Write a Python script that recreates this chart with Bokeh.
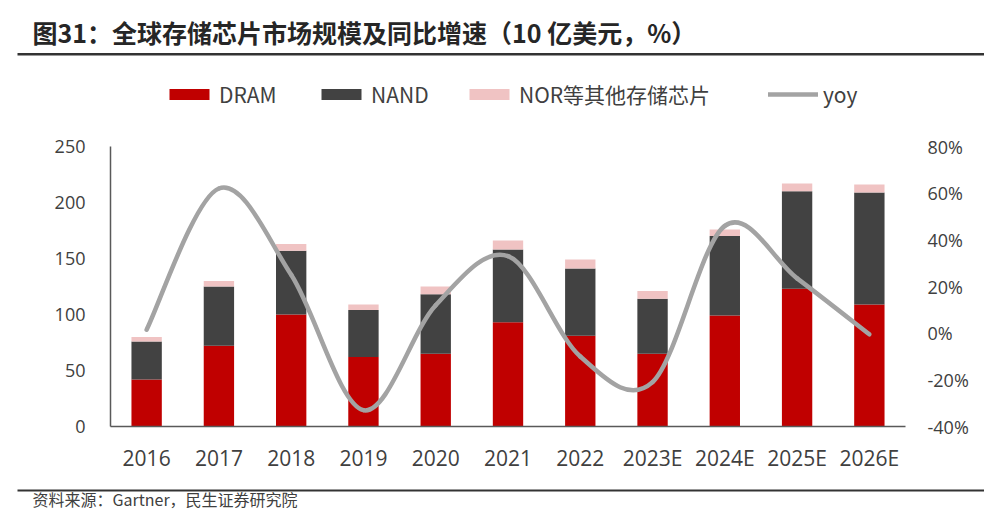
from bokeh.plotting import figure
from bokeh.models import (ColumnDataSource, Range1d, LinearAxis, FixedTicker,
                          NumeralTickFormatter, Label, BoxAnnotation, Legend, LegendItem)
from bokeh.embed import file_html
from bokeh.resources import INLINE

# ---------------- data ----------------
years = ["2016", "2017", "2018", "2019", "2020", "2021", "2022",
         "2023E", "2024E", "2025E", "2026E"]
dram = [42, 72, 100, 62, 65, 93, 81, 65, 99, 123, 109]
nand = [34, 53, 57, 42, 53, 65, 60, 49, 71, 87, 100]
nor_other = [4, 5, 6, 5, 7, 8, 8, 7, 6, 7, 7]
yoy = [0.015, 0.62, 0.25, -0.33, 0.12, 0.33, -0.10, -0.21, 0.46, 0.235, -0.005]
left_ticks = [0, 50, 100, 150, 200, 250]
right_ticks = [-0.4, -0.2, 0.0, 0.2, 0.4, 0.6, 0.8]

title_text = "图31：全球存储芯片市场规模及同比增速（10 亿美元，%）"
source_text = "资料来源：Gartner，民生证券研究院"
series_names = ["DRAM", "NAND", "NOR等其他存储芯片", "yoy"]

CJK = "Noto Sans CJK SC"
NUM = "Open Sans"
W = 984
H_TOP, H_MAIN, H_BOT = 62, 412, 37

# ---------------- header: title + rule ----------------
top = figure(width=W, height=H_TOP, output_backend="svg", toolbar_location=None,
             x_range=Range1d(0, W), y_range=Range1d(0, H_TOP),
             x_axis_type=None, y_axis_type=None, min_border=0)
top.outline_line_color = None
top.add_layout(Label(x=32, y=H_TOP - 31, x_units="screen", y_units="screen",
                     text=title_text, text_font=CJK, text_font_size="25px",
                     text_font_style="bold", text_color="#262626",
                     text_baseline="middle"))
top.add_layout(BoxAnnotation(left=17, right=W, top=H_TOP - 52.5, bottom=H_TOP - 55,
                             left_units="screen", right_units="screen",
                             top_units="screen", bottom_units="screen",
                             fill_color="#333333", fill_alpha=1, line_color=None))

# ---------------- main chart ----------------
frame_top_px, frame_bottom_px = 62, 426          # frame extends up to hold the legend
y_hi = left_ticks[-1] * (frame_bottom_px - frame_top_px) / (426 - 146)
r_lo, r_hi_tick = right_ticks[0], right_ticks[-1]
r_hi = r_lo + (r_hi_tick - r_lo) * (frame_bottom_px - frame_top_px) / (426 - 146)

xs = list(range(len(years)))
src = ColumnDataSource(dict(x=xs, DRAM=dram, NAND=nand, NOR=nor_other))

p = figure(width=W, height=H_MAIN, output_backend="svg", toolbar_location=None,
           x_range=Range1d(-0.5, len(years) - 0.5), y_range=Range1d(0, y_hi),
           min_border_left=110, min_border_right=W - 905, min_border_top=0,
           min_border_bottom=H_MAIN - (frame_bottom_px - frame_top_px))
p.outline_line_color = None
p.xgrid.visible = False
p.ygrid.visible = False

bar_colors = ["#C00000", "#424242", "#F0C3C3"]
bars = p.vbar_stack(["DRAM", "NAND", "NOR"], x="x", width=0.42,
                    fill_color=bar_colors, line_color=None, source=src)

# smoothed yoy line (Catmull-Rom -> cubic Bezier through the yoy points)
p.extra_y_ranges = {"yoy": Range1d(r_lo, r_hi)}
n = len(yoy)
bz = dict(x0=[], y0=[], x1=[], y1=[], cx0=[], cy0=[], cx1=[], cy1=[])
for i in range(n - 1):
    a, b, c, d = max(i - 1, 0), i, i + 1, min(i + 2, n - 1)
    bz["x0"].append(xs[b]); bz["y0"].append(yoy[b])
    bz["x1"].append(xs[c]); bz["y1"].append(yoy[c])
    bz["cx0"].append(xs[b] + (xs[c] - xs[a]) / 6.0)
    bz["cy0"].append(yoy[b] + (yoy[c] - yoy[a]) / 6.0)
    bz["cx1"].append(xs[c] - (xs[d] - xs[b]) / 6.0)
    bz["cy1"].append(yoy[c] - (yoy[d] - yoy[b]) / 6.0)
line_r = p.bezier(x0="x0", y0="y0", x1="x1", y1="y1", cx0="cx0", cy0="cy0",
                  cx1="cx1", cy1="cy1", source=ColumnDataSource(bz),
                  y_range_name="yoy", line_color="#A3A3A3", line_width=4.5,
                  line_cap="round")

axis_col = "#595959"
lab_col = "#404040"
p.yaxis.ticker = FixedTicker(ticks=left_ticks)
p.yaxis.bounds = (left_ticks[0], left_ticks[-1])
p.xaxis.ticker = FixedTicker(ticks=xs)
p.xaxis.major_label_overrides = {i: y for i, y in enumerate(years)}
for ax in (p.xaxis[0], p.yaxis[0]):
    ax.axis_line_color = axis_col
    ax.axis_line_width = 1.5
    ax.major_tick_line_color = None
    ax.minor_tick_line_color = None
    ax.major_tick_in = 0
    ax.major_tick_out = 0
    ax.minor_tick_in = 0
    ax.minor_tick_out = 0
    ax.major_label_text_color = lab_col
    ax.major_label_text_font = NUM
p.xaxis.major_label_text_font_size = "21px"
p.xaxis.major_label_standoff = 17
p.yaxis.major_label_text_font_size = "18px"
p.yaxis.major_label_standoff = 25

ax_r = LinearAxis(y_range_name="yoy", ticker=FixedTicker(ticks=right_ticks),
                  formatter=NumeralTickFormatter(format="0%"))
ax_r.axis_line_color = None
ax_r.major_tick_line_color = None
ax_r.minor_tick_line_color = None
ax_r.major_tick_in = 0
ax_r.major_tick_out = 0
ax_r.minor_tick_in = 0
ax_r.minor_tick_out = 0
ax_r.major_label_text_color = lab_col
ax_r.major_label_text_font = NUM
ax_r.major_label_text_font_size = "18px"
ax_r.major_label_standoff = 22
p.add_layout(ax_r, "right")

# legends (one per item); location = bottom-left, frame-relative screen px
leg_bottom = frame_bottom_px - 109
legend_pos = [(164 - 110, leg_bottom), (316 - 110, leg_bottom),
              (464 - 110, leg_bottom), (768 - 110, leg_bottom)]
for name, rend, pos in zip(series_names, list(bars) + [line_r], legend_pos):
    lg = Legend(items=[LegendItem(label=name, renderers=[rend])], location=pos,
                orientation="horizontal", glyph_width=50, glyph_height=14,
                label_standoff=5, padding=0, margin=0, spacing=0,
                border_line_color=None, background_fill_alpha=0,
                label_text_font=CJK, label_text_font_size="21px",
                label_text_color=lab_col)
    p.add_layout(lg)

# ---------------- footer: rule + source ----------------
bot = figure(width=W, height=H_BOT, output_backend="svg", toolbar_location=None,
             x_range=Range1d(0, W), y_range=Range1d(0, H_BOT),
             x_axis_type=None, y_axis_type=None, min_border=0)
bot.outline_line_color = None
bot.add_layout(BoxAnnotation(left=17, right=W, top=22, bottom=20,
                             left_units="screen", right_units="screen",
                             top_units="screen", bottom_units="screen",
                             fill_color="#333333", fill_alpha=1, line_color=None))
bot.add_layout(Label(x=32, y=12.5, x_units="screen", y_units="screen", text=source_text,
                     text_font=CJK, text_font_size="16px", text_color="#404040",
                     text_baseline="middle"))

# separate roots, stacked in page flow (no frame alignment between them)
open("out.html", "w").write(file_html([top, p, bot], INLINE))
